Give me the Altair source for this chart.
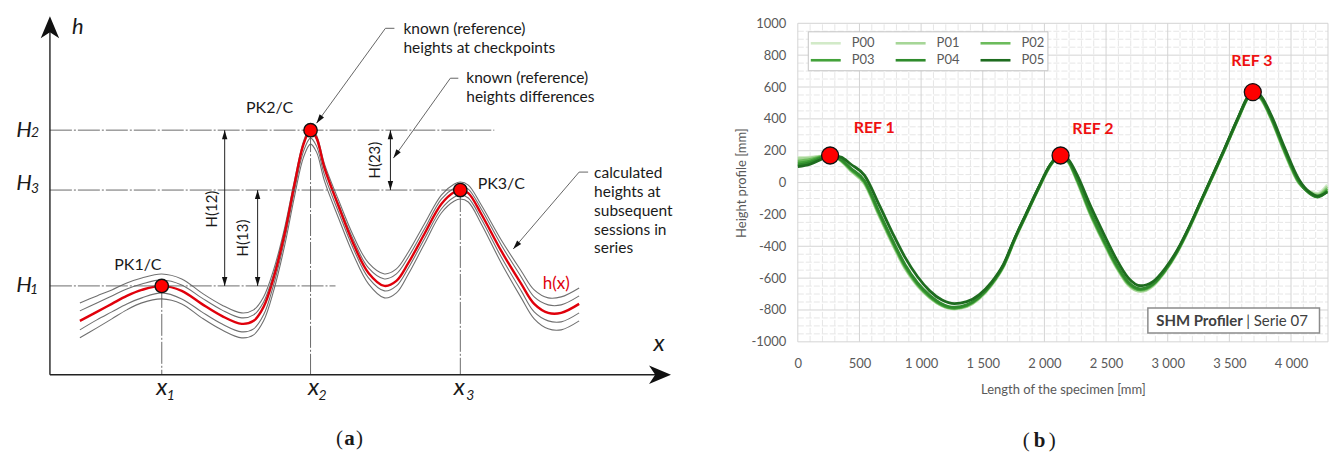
import altair as alt
import pandas as pd

# ================= Panel (a): schematic =================
# curve abscissa (distance from the h axis) and heights (above the x axis)
A_X = [30, 47, 62, 77, 92, 112, 132, 152, 172, 192, 204, 214, 224, 235, 245,
       254, 261, 267, 275, 289, 304, 319, 335, 347, 359, 375, 392, 405, 411,
       419, 432, 452, 472, 485, 499, 512, 530]
A_RED = [54, 63, 71, 79, 85, 89, 84, 71, 59, 51, 54, 68, 97, 141, 191,
         231, 245, 237, 207, 169, 131, 102, 89, 94, 112, 141, 171, 183, 185,
         182, 161, 124, 91, 71, 62, 62, 71]
A_G1 = [72, 79, 85, 92, 97, 101, 96, 82, 70, 62, 65, 78, 105, 147, 195,
        234, 248, 240, 211, 175, 139, 112, 101, 106, 123, 151, 180, 191, 193,
        190, 170, 135, 104, 85, 77, 78, 87]
A_G2 = [64, 72, 79, 86, 91, 95, 90, 77, 65, 57, 60, 73, 101, 144, 192,
        231, 244, 236, 207, 171, 135, 107, 96, 101, 118, 146, 176, 187, 189,
        186, 166, 130, 98, 78, 70, 70, 79]
A_G3 = [45, 55, 63, 71, 77, 82, 76, 63, 51, 43, 46, 60, 90, 135, 185,
        224, 237, 229, 200, 163, 126, 97, 84, 89, 107, 136, 166, 178, 180,
        177, 156, 118, 84, 63, 54, 53, 62]
A_G4 = [37, 47, 56, 65, 72, 76, 71, 57, 45, 37, 40, 54, 84, 129, 179,
        218, 231, 223, 194, 157, 120, 91, 77, 82, 101, 131, 162, 174, 176,
        173, 151, 112, 77, 56, 46, 45, 54]

A_PK_X = [112, 261, 411]
A_PK_H = [89, 245, 185]
A_PK_LABELS = ["PK1/C", "PK2/C", "PK3/C"]
A_PK_LX = [88, 220, 452]
A_PK_LH = [110, 267, 191]

A_HLINE_H = [245, 185, 89]
A_HLINE_END = [445, 410, 286]

A_DIM_X = [175, 208, 341]
A_DIM_TOP = [245, 185, 245]
A_DIM_BOT = [89, 89, 185]
A_DIM_LABELS = ["H(12)", "H(13)", "H(23)"]
A_DIM_LX = [162, 193, 326]
A_DIM_LH = [166, 137, 215]

A_LEADERS = [
    [(345, 347), (336, 347), (267, 252)],
    [(409, 297), (401, 297), (344, 217)],
    [(539, 203), (530, 203), (464, 126)],
]
A_LEADER_ANG = [216, 215, 221]

A_CALLOUT_T = ["known (reference)", "heights at checkpoints",
               "known (reference)", "heights differences",
               "calculated", "heights at", "subsequent", "sessions in", "series"]
A_CALLOUT_X = [354, 354, 417, 417, 545, 545, 545, 545, 545]
A_CALLOUT_H = [346, 327, 297, 278, 202, 183, 164, 145, 127]

A_SYM_T = ["h", "x", "H", "H", "H", "x", "x", "x"]
A_SYM_X = [28, 610, -26, -26, -26, 112, 264, 410]
A_SYM_H = [348, 31, 245, 192, 90, -13, -13, -13]
A_SYM_FS = [22, 24, 22, 22, 22, 24, 24, 24]
A_SUB_T = ["2", "3", "1", "1", "2", "3"]
A_SUB_X = [-15, -15, -16, 121, 273, 421]
A_SUB_H = [242, 186, 85, -21, -21, -21]

XD_A = [-36, 644]
YD_A = [-66, 352]


def AX(f):
    return alt.X(f, type="quantitative", scale=alt.Scale(domain=XD_A, nice=False, zero=False), axis=None)


def AY(f):
    return alt.Y(f, type="quantitative", scale=alt.Scale(domain=YD_A, nice=False, zero=False), axis=None)


grey_rows = []
for name, vals in [("g1", A_G1), ("g2", A_G2), ("g3", A_G3), ("g4", A_G4)]:
    for x, h in zip(A_X, vals):
        grey_rows.append({"x": x, "h": h, "curve": name})
df_grey = pd.DataFrame(grey_rows)
df_red = pd.DataFrame({"x": A_X, "h": A_RED})

df_hl = pd.DataFrame({"x0": [0] * 3, "x1": A_HLINE_END, "h": A_HLINE_H})
df_vl = pd.DataFrame({"x": A_PK_X, "h0": A_PK_H, "h1": [0] * 3})
df_axes = pd.DataFrame({"x0": [0, 0], "x1": [0, 612], "h0": [0, 0], "h1": [345, 0]})
df_axhead = pd.DataFrame({"x": [0, 622], "h": [359, 0], "ang": [0, 90]})
df_dim = pd.DataFrame({"x": A_DIM_X, "h0": A_DIM_BOT, "h1": A_DIM_TOP})

seg_rows = []
head_rows = []
for i, pts in enumerate(A_LEADERS):
    for (xa, ha), (xb, hb) in zip(pts[:-1], pts[1:]):
        seg_rows.append({"x0": xa, "h0": ha, "x1": xb, "h1": hb})
    head_rows.append({"x": pts[-1][0], "h": pts[-1][1], "ang": A_LEADER_ANG[i]})
for x, top, bot in zip(A_DIM_X, A_DIM_TOP, A_DIM_BOT):
    head_rows.append({"x": x, "h": top, "ang": 0})
    head_rows.append({"x": x, "h": bot, "ang": 180})
df_seg = pd.DataFrame(seg_rows)
df_head = pd.DataFrame(head_rows)

STEALTH = "M0,0L-0.42,1L0,0.72L0.42,1Z"
SMALL = "M0,0L-0.3,1L0.3,1Z"
TXT = "#1a1a1a"

a_grey = alt.Chart(df_grey).mark_line(color="#707070", strokeWidth=1.1, interpolate="catmull-rom").encode(
    x=AX("x"), y=AY("h"), detail="curve:N")
a_red = alt.Chart(df_red).mark_line(color="#e0000b", strokeWidth=2.4, interpolate="catmull-rom").encode(
    x=AX("x"), y=AY("h"))
a_hl = alt.Chart(df_hl).mark_rule(color="#5a5a5a", strokeWidth=0.9, strokeDash=[22, 2, 2, 2]).encode(
    x=AX("x0"), x2=alt.X2("x1"), y=AY("h"))
a_vl = alt.Chart(df_vl).mark_rule(color="#5a5a5a", strokeWidth=0.9, strokeDash=[22, 2, 2, 2]).encode(
    x=AX("x"), y=AY("h0"), y2=alt.Y2("h1"))
a_axes = alt.Chart(df_axes).mark_rule(color="#222222", strokeWidth=1.4).encode(
    x=AX("x0"), x2=alt.X2("x1"), y=AY("h0"), y2=alt.Y2("h1"))
a_axhead = alt.Chart(df_axhead).mark_point(shape=STEALTH, filled=True, color="#111111", size=1936, opacity=1).encode(
    x=AX("x"), y=AY("h"), angle=alt.Angle("ang:Q", scale=None))
a_dim = alt.Chart(df_dim).mark_rule(color="#222222", strokeWidth=1).encode(
    x=AX("x"), y=AY("h0"), y2=alt.Y2("h1"))
a_seg = alt.Chart(df_seg).mark_rule(color="#555555", strokeWidth=0.9).encode(
    x=AX("x0"), x2=alt.X2("x1"), y=AY("h0"), y2=alt.Y2("h1"))
a_head = alt.Chart(df_head).mark_point(shape=SMALL, filled=True, color="#111111", size=324, opacity=1).encode(
    x=AX("x"), y=AY("h"), angle=alt.Angle("ang:Q", scale=None))
a_pts = alt.Chart(pd.DataFrame({"x": A_PK_X, "h": A_PK_H})).mark_point(
    shape="circle", filled=True, fill="#ff0000", stroke="#111111", strokeWidth=1.4, size=180, opacity=1).encode(
    x=AX("x"), y=AY("h"))
a_pk_txt = alt.Chart(pd.DataFrame({"x": A_PK_LX, "h": A_PK_LH, "t": A_PK_LABELS})).mark_text(
    font="Lato", fontSize=16, color=TXT).encode(x=AX("x"), y=AY("h"), text="t:N")
a_dim_txt = alt.Chart(pd.DataFrame({"x": A_DIM_LX, "h": A_DIM_LH, "t": A_DIM_LABELS})).mark_text(
    font="Lato", fontSize=15, color=TXT, angle=270).encode(x=AX("x"), y=AY("h"), text="t:N")
a_call = alt.Chart(pd.DataFrame({"x": A_CALLOUT_X, "h": A_CALLOUT_H, "t": A_CALLOUT_T})).mark_text(
    font="Lato", fontSize=15.5, color=TXT, align="left").encode(x=AX("x"), y=AY("h"), text="t:N")
a_sym = alt.Chart(pd.DataFrame({"x": A_SYM_X, "h": A_SYM_H, "t": A_SYM_T, "fs": A_SYM_FS})).mark_text(
    font="Lato", fontStyle="italic", color=TXT).encode(
    x=AX("x"), y=AY("h"), text="t:N", size=alt.Size("fs:Q", scale=None))
a_sub = alt.Chart(pd.DataFrame({"x": A_SUB_X, "h": A_SUB_H, "t": A_SUB_T})).mark_text(
    font="Lato", fontStyle="italic", fontSize=14, color=TXT).encode(x=AX("x"), y=AY("h"), text="t:N")
a_hx = alt.Chart(pd.DataFrame({"x": [507], "h": [91], "t": ["h(x)"]})).mark_text(
    font="Lato", fontSize=17, color="#e0000b").encode(x=AX("x"), y=AY("h"), text="t:N")
a_cap1 = alt.Chart(pd.DataFrame({"x": [290, 310], "h": [-64, -64], "t": ["(", ")"]})).mark_text(
    font="Liberation Serif", fontSize=21, color=TXT).encode(x=AX("x"), y=AY("h"), text="t:N")
a_cap2 = alt.Chart(pd.DataFrame({"x": [300], "h": [-64], "t": ["a"]})).mark_text(
    font="Liberation Serif", fontSize=21, fontWeight="bold", color=TXT).encode(x=AX("x"), y=AY("h"), text="t:N")

panel_a = alt.layer(a_grey, a_red, a_hl, a_vl, a_axes, a_axhead, a_dim, a_seg, a_head, a_pts,
                    a_pk_txt, a_dim_txt, a_call, a_sym, a_sub, a_hx, a_cap1, a_cap2).properties(
    width=680, height=418)

# ================= Panel (b): measured height profiles =================
B_X = [0, 100, 200, 265, 350, 430, 541, 660, 770, 870, 970, 1070, 1170, 1270, 1370,
       1470, 1570, 1670, 1760, 1850, 1950, 2050, 2131, 2200, 2270, 2370, 2480, 2580,
       2680, 2780, 2880, 2980, 3080, 3180, 3270, 3370, 3460, 3570, 3660, 3700, 3760,
       3841, 3945, 4064, 4150, 4215, 4294]
P00 = [158, 160, 168, 172, 135, 72, -10, -212, -392, -542, -650, -725, -775, -795, -780,
       -731, -647, -527, -362, -211, -45, 106, 170, 120, -5, -200, -380, -530, -645, -685,
       -650, -560, -437, -282, -126, 45, 200, 395, 540, 565, 520, 392, 190, -5, -55, -68, -15]
P01 = [150, 155, 166, 172, 137, 75, -6, -208, -388, -538, -646, -722, -773, -793, -778,
       -728, -644, -524, -359, -208, -43, 108, 171, 122, 0, -196, -376, -526, -641, -682,
       -647, -556, -434, -279, -123, 47, 202, 398, 543, 566, 522, 396, 195, -3, -58, -75, -25]
P02 = [135, 145, 165, 172, 140, 80, 0, -200, -380, -530, -640, -718, -770, -790, -775,
       -725, -640, -520, -355, -205, -40, 110, 172, 125, 5, -190, -370, -520, -635, -675,
       -642, -552, -430, -275, -120, 50, 205, 400, 545, 568, 525, 400, 200, 0, -62, -82, -38]
P03 = [122, 135, 162, 172, 142, 84, 5, -194, -374, -524, -636, -715, -768, -788, -772,
       -722, -638, -518, -353, -203, -38, 112, 173, 128, 10, -184, -364, -515, -630, -672,
       -640, -550, -428, -273, -118, 52, 207, 402, 547, 570, 528, 404, 205, 4, -65, -88, -48]
P04 = [110, 126, 158, 171, 145, 90, 12, -185, -365, -515, -628, -708, -762, -783, -768,
       -719, -636, -516, -351, -201, -36, 114, 173, 131, 16, -176, -356, -508, -624, -667,
       -636, -548, -426, -271, -116, 54, 209, 404, 549, 571, 531, 408, 210, 8, -68, -92, -55]
P05 = [100, 115, 150, 170, 160, 115, 45, -140, -320, -470, -590, -680, -738, -760, -748,
       -705, -626, -510, -348, -199, -35, 115, 174, 140, 40, -140, -320, -475, -598, -648,
       -622, -538, -420, -268, -114, 56, 211, 406, 550, 572, 540, 420, 225, 20, -60, -85, -60]
B_SERIES = ["P00", "P01", "P02", "P03", "P04", "P05"]
B_COLORS = ["#d2eac8", "#a6d697", "#6cbb5c", "#43a23a", "#2f8b2c", "#1e6c1f"]

B_REF_X = [262, 2131, 3690]
B_REF_Y = [170, 170, 568]
B_REF_LABELS = ["REF 1", "REF 2", "REF 3"]
B_REF_LX = [620, 2394, 3682]
B_REF_LY = [342, 335, 762]

B_XTICKS = [0, 500, 1000, 1500, 2000, 2500, 3000, 3500, 4000]
B_YTICKS = [-1000, -800, -600, -400, -200, 0, 200, 400, 600, 800, 1000]
B_MAJOR_X = B_XTICKS + [4300]
B_MINOR_X = [v for v in range(100, 4300, 100) if v % 500 != 0]
B_MINOR_Y = [v for v in range(-950, 1000, 50) if v % 200 != 0]

rows = []
for name, vals in zip(B_SERIES, [P00, P01, P02, P03, P04, P05]):
    for x, y in zip(B_X, vals):
        rows.append({"x": x, "y": y, "series": name})
df_b = pd.DataFrame(rows)

GREY = "#595959"
XS_B = alt.Scale(domain=[0, 4300], nice=False, zero=False)
YS_B = alt.Scale(domain=[-1000, 1000], nice=False, zero=False)
AXIS_BX = alt.Axis(values=B_XTICKS, labelExpr="replace(format(datum.value, ','), ',', ' ')",
                   grid=False, ticks=False, domain=False, labelFlush=False, labelOverlap=False,
                   labelFont="Lato", labelFontSize=13, labelColor=GREY, labelPadding=16,
                   title="Length of the specimen [mm]", titleFont="Lato", titleFontSize=13,
                   titleFontWeight="normal", titleColor=GREY, titlePadding=13)
AXIS_BY = alt.Axis(values=B_YTICKS, labelExpr="'' + datum.value",
                   grid=False, ticks=False, domain=False, labelFlush=False, labelOverlap=False,
                   labelFont="Lato", labelFontSize=13, labelColor=GREY, labelPadding=12,
                   title="Height profile [mm]", titleFont="Lato", titleFontSize=13,
                   titleFontWeight="normal", titleColor=GREY, titlePadding=2)


def BX(f):
    return alt.X(f, type="quantitative", scale=XS_B, axis=AXIS_BX)


def BY(f):
    return alt.Y(f, type="quantitative", scale=YS_B, axis=AXIS_BY)


Y_LO = alt.Y(datum=-1000, type="quantitative", scale=YS_B, axis=AXIS_BY)
Y_HI = alt.Y2(datum=1000)
X_LO = alt.X(datum=0, type="quantitative", scale=XS_B, axis=AXIS_BX)
X_HI = alt.X2(datum=4300)

b_minx = alt.Chart(pd.DataFrame({"g": B_MINOR_X})).mark_rule(color="#e6e6e6", strokeWidth=1, strokeDash=[6, 2]).encode(
    x=BX("g"), y=Y_LO, y2=Y_HI)
b_miny = alt.Chart(pd.DataFrame({"g": B_MINOR_Y})).mark_rule(color="#e6e6e6", strokeWidth=1, strokeDash=[6, 2]).encode(
    y=BY("g"), x=X_LO, x2=X_HI)
b_majx = alt.Chart(pd.DataFrame({"g": B_MAJOR_X})).mark_rule(color="#d4d4d4", strokeWidth=1).encode(
    x=BX("g"), y=Y_LO, y2=Y_HI)
b_majy = alt.Chart(pd.DataFrame({"g": B_YTICKS})).mark_rule(color="#d4d4d4", strokeWidth=1).encode(
    y=BY("g"), x=X_LO, x2=X_HI)

b_lines = alt.Chart(df_b).mark_line(strokeWidth=2.8, interpolate="monotone").encode(
    x=BX("x"), y=BY("y"),
    color=alt.Color("series:N", scale=alt.Scale(domain=B_SERIES, range=B_COLORS),
                    legend=alt.Legend(title=None, orient="none", legendX=795, legendY=8, columns=3,
                                      direction="horizontal", symbolType="M-2,0H2", symbolSize=225,
                                      symbolOffset=6, symbolStrokeWidth=2.6, labelFont="Lato",
                                      labelFontSize=13, labelColor=GREY, labelOffset=17,
                                      fillColor="white", strokeColor="#c4c4c4", padding=3,
                                      columnPadding=15, rowPadding=1)))

b_box = alt.Chart(pd.DataFrame({"x0": [2839], "x1": [4231], "y0": [-787], "y1": [-944]})).mark_rect(
    fill="white", stroke="#8c8c8c", strokeWidth=1.5).encode(
    x=BX("x0"), x2=alt.X2("x1"), y=BY("y0"), y2=alt.Y2("y1"))
b_box_t1 = alt.Chart(pd.DataFrame({"x": [3610], "y": [-868], "t": ["SHM Profiler"]})).mark_text(
    font="Lato", fontSize=15, fontWeight="bold", color="#404040", align="right").encode(
    x=BX("x"), y=BY("y"), text="t:N")
b_box_t2 = alt.Chart(pd.DataFrame({"x": [3636], "y": [-868], "t": ["|  Serie 07"]})).mark_text(
    font="Lato", fontSize=15, color="#404040", align="left").encode(
    x=BX("x"), y=BY("y"), text="t:N")

b_ref = alt.Chart(pd.DataFrame({"x": B_REF_X, "y": B_REF_Y})).mark_point(
    shape="circle", filled=True, fill="#ff0000", stroke="#111111", strokeWidth=1.3, size=290, opacity=1).encode(
    x=BX("x"), y=BY("y"))
b_ref_t = alt.Chart(pd.DataFrame({"x": B_REF_LX, "y": B_REF_LY, "t": B_REF_LABELS})).mark_text(
    font="Lato", fontSize=16, fontWeight="bold", color="#ee1111").encode(
    x=BX("x"), y=BY("y"), text="t:N")
b_cap1 = alt.Chart(pd.DataFrame({"x": [1853, 2063], "y": [-1621, -1621], "t": ["(", ")"]})).mark_text(
    font="Liberation Serif", fontSize=21, color=TXT).encode(x=BX("x"), y=BY("y"), text="t:N")
b_cap2 = alt.Chart(pd.DataFrame({"x": [1960], "y": [-1621], "t": ["b"]})).mark_text(
    font="Liberation Serif", fontSize=21, fontWeight="bold", color=TXT).encode(x=BX("x"), y=BY("y"), text="t:N")

panel_b = alt.layer(b_minx, b_miny, b_majx, b_majy, b_lines, b_box, b_box_t1, b_box_t2,
                    b_ref, b_ref_t, b_cap1, b_cap2).properties(width=531, height=319)

chart = alt.hconcat(panel_a, panel_b, spacing=105, bounds="flush").properties(
    padding={"left": 6, "top": 7, "right": 0, "bottom": 0}, background="white"
).configure_view(strokeWidth=0).configure_axis(labelOverlap=False)

chart.save("out.html", embed_options={"renderer": "svg", "actions": False})
